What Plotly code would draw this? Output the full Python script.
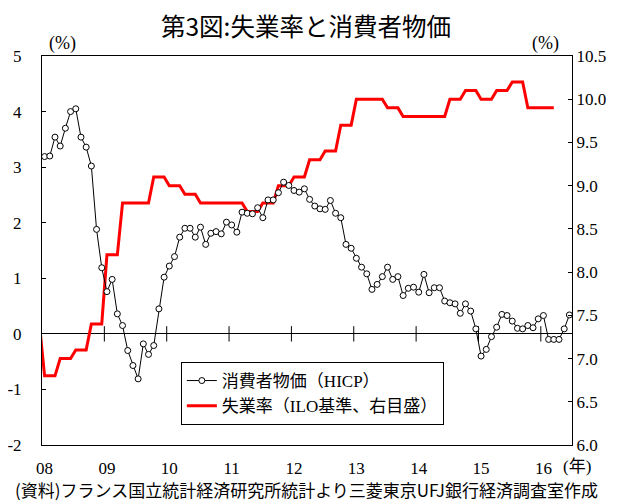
import plotly.graph_objects as go

# ---------------- data ----------------
# HICP y/y (%), monthly Jan 2008 .. Jun 2016
hicp_2008 = [3.19, 3.20, 3.54, 3.38, 3.70, 4.00, 4.05, 3.54, 3.36, 3.02, 1.88, 1.19]
hicp_2009 = [0.76, 0.98, 0.36, 0.15, -0.30, -0.57, -0.81, -0.18, -0.37, -0.21, 0.45, 1.02]
hicp_2010 = [1.22, 1.39, 1.74, 1.90, 1.90, 1.74, 1.92, 1.61, 1.81, 1.84, 1.80, 2.01]
hicp_2011 = [1.96, 1.83, 2.19, 2.17, 2.16, 2.27, 2.09, 2.41, 2.41, 2.54, 2.73, 2.67]
hicp_2012 = [2.58, 2.55, 2.61, 2.42, 2.30, 2.25, 2.24, 2.40, 2.17, 2.09, 1.61, 1.54]
hicp_2013 = [1.36, 1.20, 1.08, 0.80, 0.89, 1.03, 1.20, 0.98, 1.03, 0.69, 0.82, 0.84]
hicp_2014 = [0.75, 1.07, 0.74, 0.83, 0.83, 0.59, 0.56, 0.54, 0.37, 0.54, 0.41, 0.09]
hicp_2015 = [-0.40, -0.28, -0.05, 0.12, 0.35, 0.33, 0.23, 0.10, 0.09, 0.15, 0.11, 0.27]
hicp_2016 = [0.33, -0.10, -0.10, -0.10, 0.09, 0.34]
hicp = (hicp_2008 + hicp_2009 + hicp_2010 + hicp_2011 + hicp_2012
        + hicp_2013 + hicp_2014 + hicp_2015 + hicp_2016)
hicp_month = list(range(len(hicp)))          # 0 = Jan 2008

# ILO unemployment rate (%), quarterly, 2007Q4 .. 2016Q1
unemp_quarterly = [7.4,
                   6.8, 7.0, 7.1, 7.4,
                   8.2, 8.8, 8.8, 9.1,
                   9.0, 8.9, 8.8, 8.8,
                   8.8, 8.7, 8.8, 9.0,
                   9.1, 9.3, 9.4, 9.7,
                   10.0, 10.0, 9.9, 9.8,
                   9.8, 9.8, 10.0, 10.1,
                   10.0, 10.1, 10.2, 9.9,
                   9.9]
unemp = [v for v in unemp_quarterly for _ in range(3)]
unemp_month = list(range(-3, -3 + len(unemp)))

year_labels = ["08", "09", "10", "11", "12", "13", "14", "15", "16"]
year_months = [0, 12, 24, 36, 48, 60, 72, 84, 96]
year_boundaries = [11.5, 23.5, 35.5, 47.5, 59.5, 71.5, 83.5, 95.5]

left_ticks = [-2, -1, 0, 1, 2, 3, 4, 5]
left_labels = ["-2", "-1", "0", "1", "2", "3", "4", "5"]

title_text = "第3図:失業率と消費者物価"
source_text = "(資料)フランス国立統計経済研究所統計より三菱東京UFJ銀行経済調査室作成"
name_hicp = "消費者物価（HICP）"
name_unemp = "失業率（ILO基準、右目盛）"

# ---------------- figure ----------------
SERIF = "Liberation Serif, Noto Sans CJK JP"
fig = go.Figure()

fig.add_trace(go.Scatter(
    x=unemp_month, y=unemp, yaxis="y", mode="lines",
    line=dict(color="#FF0000", width=3), name=name_unemp, legendrank=2,
    hoverinfo="skip"))

fig.add_trace(go.Scatter(
    x=year_boundaries, y=[0] * len(year_boundaries), yaxis="y2", mode="markers",
    marker=dict(symbol="line-ns", size=11, line=dict(color="black", width=1)),
    showlegend=False, hoverinfo="skip"))

fig.add_trace(go.Scatter(
    x=hicp_month, y=hicp, yaxis="y2", mode="lines+markers",
    line=dict(color="black", width=1),
    marker=dict(symbol="circle", size=6, color="white",
                line=dict(color="black", width=1)),
    name=name_hicp, legendrank=1, hoverinfo="skip"))

tickfont = dict(family="Liberation Serif", size=17, color="black")

# page has an 8px body margin; figure is sized/offset to compensate
# plot area in page pixels: x 42..572, y 56..445
fig.update_layout(
    width=610, height=494,
    margin=dict(l=34, r=46, t=48, b=57, autoexpand=False),
    paper_bgcolor="white", plot_bgcolor="white",
    showlegend=True,
    legend=dict(x=0.262, y=(445 - 362) / 389, xanchor="left", yanchor="top",
                bgcolor="white", bordercolor="black", borderwidth=1,
                font=dict(family=SERIF, size=17, color="black"),
                tracegroupgap=0, itemwidth=30),
    xaxis=dict(range=[-0.5, 101.5], tickmode="array", tickvals=year_months,
               ticktext=year_labels, ticks="", showline=True, linecolor="black",
               linewidth=1, mirror=True, showgrid=False, zeroline=False,
               tickfont=tickfont, ticklabelstandoff=8, automargin=False),
    yaxis=dict(side="right", range=[6, 10.5], tick0=6, dtick=0.5,
               tickformat=".1f", ticks="inside", ticklen=4, tickcolor="black",
               showline=True, linecolor="black", linewidth=1,
               showgrid=False, zeroline=False, tickfont=tickfont,
               ticklabelstandoff=0, automargin=False),
    yaxis2=dict(overlaying="y", side="left", range=[-2, 5],
                tickmode="array", tickvals=left_ticks, ticktext=left_labels,
                ticks="inside", ticklen=4, tickcolor="black",
                showline=True, linecolor="black", linewidth=1,
                showgrid=False, zeroline=True, zerolinecolor="black",
                zerolinewidth=1, tickfont=tickfont, ticklabelstandoff=16,
                automargin=False),
)

fig.add_annotation(text=title_text, xref="paper", yref="paper",
                   x=(306 - 42) / 530, y=(445 - 26) / 389,
                   xanchor="center", yanchor="middle", showarrow=False,
                   font=dict(family="Noto Sans CJK JP", size=24.5, color="black"))
fig.add_annotation(text="(%)", xref="paper", yref="paper",
                   x=(62 - 42) / 530, y=(445 - 44) / 389,
                   xanchor="center", yanchor="middle", showarrow=False,
                   font=dict(family="Liberation Serif", size=18, color="black"))
fig.add_annotation(text="(%)", xref="paper", yref="paper",
                   x=(545 - 42) / 530, y=(445 - 44) / 389,
                   xanchor="center", yanchor="middle", showarrow=False,
                   font=dict(family="Liberation Serif", size=18, color="black"))
fig.add_annotation(text="(年)", xref="paper", yref="paper",
                   x=(561 - 42) / 530, y=(445 - 466) / 389,
                   xanchor="left", yanchor="middle", showarrow=False,
                   font=dict(family=SERIF, size=17, color="black"))
fig.add_annotation(text=source_text, xref="paper", yref="paper",
                   x=(306 - 42) / 530, y=(445 - 489) / 389,
                   xanchor="center", yanchor="middle", showarrow=False,
                   font=dict(family="Noto Sans CJK JP", size=17, color="black"))

fig.write_html("out.html")
